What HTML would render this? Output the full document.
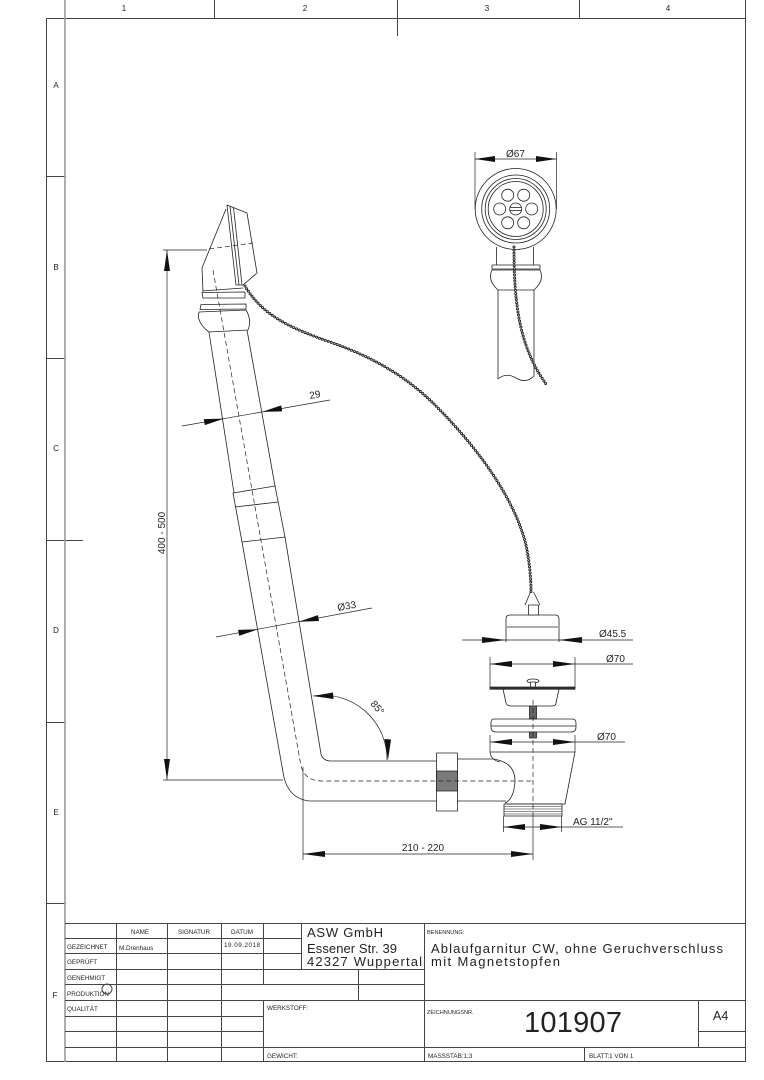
<!DOCTYPE html>
<html><head><meta charset="utf-8"><style>
html,body{margin:0;padding:0;background:#fff;}
svg{display:block;}
text{font-family:"Liberation Sans",sans-serif;fill:#222;}
</style></head><body>
<svg width="764" height="1080" viewBox="0 0 764 1080" xmlns="http://www.w3.org/2000/svg">
<rect x="0" y="0" width="764" height="1080" fill="#fff"/>
<!-- frame -->
<g stroke="#444" stroke-width="1" fill="none">
<line x1="46.5" y1="18.5" x2="746" y2="18.5"/>
<line x1="46.5" y1="18.5" x2="46.5" y2="1062"/>
<line x1="46.5" y1="1061.5" x2="746" y2="1061.5"/>
<line x1="745.5" y1="0" x2="745.5" y2="1062"/>
<line x1="214.5" y1="0" x2="214.5" y2="18"/>
<line x1="397.5" y1="0" x2="397.5" y2="36"/>
<line x1="579.5" y1="0" x2="579.5" y2="18"/>
<line x1="47" y1="176.5" x2="65" y2="176.5"/>
<line x1="47" y1="358.5" x2="65" y2="358.5"/>
<line x1="47" y1="540.5" x2="83" y2="540.5"/>
<line x1="47" y1="722.5" x2="65" y2="722.5"/>
<line x1="47" y1="903.5" x2="65" y2="903.5"/>
</g>
<line x1="65" y1="0" x2="65" y2="1062" stroke="#999" stroke-width="1.6"/>
<g font-size="8" text-anchor="middle">
<text x="124" y="11">1</text><text x="305" y="11">2</text><text x="487" y="11">3</text><text x="668" y="11">4</text>
<text x="56" y="88">A</text><text x="56" y="270">B</text><text x="56" y="451">C</text><text x="56" y="633">D</text><text x="56" y="815">E</text><text x="55" y="998">F</text>
</g>

<!-- title block -->
<g stroke="#444" stroke-width="1" fill="none">
<line x1="65" y1="923.5" x2="746" y2="923.5"/>
<line x1="65" y1="938.5" x2="301" y2="938.5"/>
<line x1="65" y1="953.5" x2="301" y2="953.5"/>
<line x1="65" y1="969.5" x2="424" y2="969.5"/>
<line x1="65" y1="984.5" x2="424" y2="984.5"/>
<line x1="65" y1="1000.5" x2="746" y2="1000.5"/>
<line x1="65" y1="1016.5" x2="263" y2="1016.5"/>
<line x1="65" y1="1031.5" x2="263" y2="1031.5"/>
<line x1="65" y1="1047.5" x2="746" y2="1047.5"/>
<line x1="116.5" y1="923" x2="116.5" y2="1062"/>
<line x1="167.5" y1="923" x2="167.5" y2="1062"/>
<line x1="221.5" y1="923" x2="221.5" y2="1062"/>
<line x1="263.5" y1="923" x2="263.5" y2="984"/>
<line x1="263.5" y1="1000" x2="263.5" y2="1062"/>
<line x1="301.5" y1="923" x2="301.5" y2="969"/>
<line x1="358.5" y1="969" x2="358.5" y2="1000"/>
<line x1="424.5" y1="923" x2="424.5" y2="1062"/>
<line x1="698.5" y1="1000" x2="698.5" y2="1047"/>
<line x1="698" y1="1031.5" x2="746" y2="1031.5"/>
<line x1="584.5" y1="1047" x2="584.5" y2="1062"/>
<circle cx="107" cy="989" r="5"/>
</g>
<g font-size="6.3">
<text x="140" y="934" text-anchor="middle">NAME</text>
<text x="194" y="934" text-anchor="middle">SIGNATUR</text>
<text x="242" y="934" text-anchor="middle">DATUM</text>
<text x="67" y="949">GEZEICHNET</text>
<text x="119" y="950">M.Drenhaus</text>
<text x="224" y="947" textLength="36">19.09.2018</text>
<text x="67" y="964">GEPRÜFT</text>
<text x="67" y="980">GENEHMIGT</text>
<text x="67" y="996">PRODUKTION</text>
<text x="67" y="1011">QUALITÄT</text>
<text x="267" y="1010">WERKSTOFF:</text>
<text x="267" y="1058">GEWICHT:</text>
<text x="428" y="1058">MASSSTAB:1:3</text>
<text x="589" y="1058">BLATT:1 VON 1</text>
</g>
<g font-size="5.6">
<text x="427" y="934">BENENNUNG:</text>
<text x="427" y="1014">ZEICHNUNGSNR.</text>
</g>
<g font-size="13">
<text x="307" y="937" textLength="76">ASW GmbH</text>
<text x="307" y="953" textLength="90">Essener Str. 39</text>
<text x="307" y="966" textLength="115">42327 Wuppertal</text>
<text x="431" y="953" textLength="292">Ablaufgarnitur CW, ohne Geruchverschluss</text>
<text x="431" y="966" textLength="129">mit Magnetstopfen</text>
</g>
<text x="524" y="1032" font-size="29" textLength="98">101907</text>
<text x="713" y="1020" font-size="12.5">A4</text>

<!-- main drawing -->
<g stroke="#222" stroke-width="0.8" fill="none" stroke-linejoin="round">
<!-- head cap -->
<polygon points="227,205 247,213 257,273 243,285 236,285"/>
<line x1="230" y1="206" x2="239" y2="285"/>
<line x1="233.5" y1="207.5" x2="242" y2="285"/>
<polyline points="226,209 202,268 203,291"/>
<line x1="202" y1="291" x2="243" y2="288"/>
<path d="M202,292.5 L245,292 L245,298 L203,298 Z"/>
<path d="M201,304.5 L246,304 L246,309 L200,309.5 Z"/>
<!-- collar -->
<path d="M199,312 L246,310 Q252,320 248,330 L209,332 Q196,322 199,312 Z"/>
<!-- upper tube -->
<line x1="209" y1="332" x2="234" y2="493"/>
<line x1="247" y1="330" x2="275" y2="486"/>
<!-- sleeve -->
<path d="M233,493 L275,486 L285,537 L242,542 Z"/>
<line x1="235" y1="507" x2="278" y2="502"/>
<!-- lower tube -->
<path d="M242,542 L283,772 Q287,799 310,801 L437,801"/>
<path d="M285,537 L321,754 Q323,761 331,761 L437,761"/>
<!-- nut -->
<rect x="436.5" y="753" width="21" height="58" fill="#fff"/>
<rect x="436.5" y="771" width="21" height="20" fill="#7a7a7a"/>
<!-- pipe after nut -->
<line x1="457" y1="759" x2="493" y2="759"/>
<line x1="457" y1="801" x2="506" y2="801"/>
<path d="M493,759 Q515,762 515,781 Q514,799 505,803"/>
<!-- drain body -->
<path d="M490,752 L575,752 L565,804 L505,804"/>
<path d="M490,752 Q491,760 500,762"/>
<rect x="504" y="804" width="58" height="12"/>
<g stroke-width="0.5"><line x1="504" y1="806.5" x2="562" y2="806.5"/><line x1="504" y1="809" x2="562" y2="809"/><line x1="504" y1="811.5" x2="562" y2="811.5"/><line x1="504" y1="814" x2="562" y2="814"/></g>
<!-- stopper -->
<path d="M506,642 L506,619 Q506,615 510,615 L555,615 Q559,615 559,619 L559,642"/>
<line x1="507" y1="627" x2="558" y2="627"/>
<rect x="528.5" y="605" width="10" height="10" fill="#fff"/>
<line x1="525" y1="605" x2="530.5" y2="592"/>
<line x1="540" y1="605" x2="533.5" y2="592"/>
<!-- plate and cup -->
<rect x="490" y="687" width="85" height="2.2" fill="#333"/>
<path d="M503,689 L506,703 Q507,706 511,706 L552,706 Q556,706 556,703 L559,689"/>
<ellipse cx="533" cy="681" rx="6" ry="2" fill="#fff"/>
<rect x="530.5" y="682" width="5" height="5" fill="#fff"/>
<rect x="529.5" y="706" width="7" height="13" fill="#666"/>
<path d="M494,719 L572,719 Q576,719 576,723 L576,727 Q576,732 571,732 L496,732 Q491,732 491,727 L491,723 Q491,719 494,719 Z"/>
<line x1="491" y1="726" x2="576" y2="726"/>
<rect x="529.5" y="732" width="7" height="6" fill="#666"/>
<!-- top-right detail -->
<circle cx="515.7" cy="209" r="40.5"/>
<circle cx="515.7" cy="209" r="34"/>
<circle cx="515.7" cy="209" r="30.5"/>
<circle cx="515.7" cy="209" r="27.5"/>
<circle cx="515.7" cy="209" r="6"/>
<line x1="510" y1="207.5" x2="521.5" y2="207.5"/>
<line x1="510" y1="210.5" x2="521.5" y2="210.5"/>
<circle cx="531.7" cy="209" r="6"/>
<circle cx="499.7" cy="209" r="6"/>
<circle cx="523.7" cy="195.2" r="6"/>
<circle cx="507.7" cy="195.2" r="6"/>
<circle cx="523.7" cy="222.8" r="6"/>
<circle cx="507.7" cy="222.8" r="6"/>
<line x1="496.5" y1="247" x2="496.5" y2="265"/>
<line x1="533.5" y1="247" x2="533.5" y2="265"/>
<rect x="492" y="265" width="48" height="4"/>
<path d="M492,270 L540,270 Q545,280 534,290 L498,290 Q487,280 492,270 Z"/>
<line x1="498" y1="290" x2="498" y2="379"/>
<line x1="534" y1="290" x2="534" y2="376"/>
<path d="M498,379 Q506,372 516,378 Q526,384 534,376"/>
</g>

<!-- hidden / center lines -->
<g stroke="#222" stroke-width="0.7" fill="none" stroke-dasharray="5,3">
<line x1="209" y1="249" x2="253" y2="243"/>
<path d="M213,270 L301,766 Q305,781 322,781 L533,781"/>
<line x1="533" y1="700" x2="533" y2="817"/>
</g>

<!-- chains -->
<g fill="none" stroke-linecap="round">
<path d="M245,286 C262,315 290,328 330,342 C370,356 405,375 435,405 C480,450 515,500 526,545 C530,565 531,580 531,592" stroke="#222" stroke-width="3" stroke-dasharray="0 3.1"/>
<path d="M245,286 C262,315 290,328 330,342 C370,356 405,375 435,405 C480,450 515,500 526,545 C530,565 531,580 531,592" stroke="#fff" stroke-width="1.1" stroke-dasharray="0 3.1"/>
<path d="M514,247 C514,300 518,345 546,384" stroke="#222" stroke-width="3" stroke-dasharray="0 3.1"/>
<path d="M514,247 C514,300 518,345 546,384" stroke="#fff" stroke-width="1.1" stroke-dasharray="0 3.1"/>
</g>

<!-- dimensions -->
<g stroke="#222" stroke-width="0.7" fill="none">
<line x1="167" y1="250" x2="167" y2="780"/>
<line x1="163" y1="250" x2="207" y2="250"/>
<line x1="163" y1="780" x2="283" y2="780"/>
<line x1="182" y1="426" x2="330" y2="400"/>
<line x1="216" y1="637" x2="372" y2="608"/>
<path d="M313,696 A64,64 0 0 1 387,760"/>
<line x1="303" y1="767" x2="303" y2="860"/>
<line x1="533" y1="817" x2="533" y2="860"/>
<line x1="303" y1="854" x2="533" y2="854"/>
<line x1="503.5" y1="816" x2="503.5" y2="832"/>
<line x1="561.5" y1="816" x2="561.5" y2="832"/>
<line x1="503" y1="827" x2="623" y2="827"/>
<line x1="490" y1="735" x2="490" y2="752"/>
<line x1="575" y1="735" x2="575" y2="752"/>
<line x1="490" y1="742" x2="625" y2="742"/>
<line x1="490" y1="657" x2="490" y2="688"/>
<line x1="575" y1="657" x2="575" y2="688"/>
<line x1="490" y1="664" x2="633" y2="664"/>
<line x1="462" y1="640" x2="633" y2="640"/>
<line x1="475" y1="152" x2="475" y2="209"/>
<line x1="556.5" y1="152" x2="556.5" y2="209"/>
<line x1="475" y1="159" x2="556.5" y2="159"/>
</g>
<g fill="#111" stroke="none">
<polygon points="167,250 164,271 170,271"/>
<polygon points="167,780 164,759 170,759"/>
<polygon points="224,418.6 204.8,425.1 203.8,419.1"/>
<polygon points="262,411.9 282.2,411.4 281.2,405.4"/>
<polygon points="258.3,629.2 239.2,635.8 238.1,629.9"/>
<polygon points="298.8,621.7 319,621 317.9,615.1"/>
<polygon points="313,696 333,692.5 333.5,699"/>
<polygon points="388,760 384.5,739 391,739.5"/>
<polygon points="303,854 325,851 325,857"/>
<polygon points="533,854 511,851 511,857"/>
<polygon points="503.5,827 525,824 525,830"/>
<polygon points="561.5,827 540,824 540,830"/>
<polygon points="490,742 512,739 512,745"/>
<polygon points="575,742 553,739 553,745"/>
<polygon points="490,664 512,661 512,667"/>
<polygon points="575,664 553,661 553,667"/>
<polygon points="506,640 482,637 482,643"/>
<polygon points="559,640 582,637 582,643"/>
<polygon points="475,159 495,156 495,162"/>
<polygon points="556.5,159 536,156 536,162"/>
</g>
<g font-size="10">
<text x="0" y="0" transform="translate(165,533) rotate(-90)" text-anchor="middle">400 - 500</text>
<text x="0" y="0" transform="translate(310,399) rotate(-10)">29</text>
<text x="0" y="0" transform="translate(338,611) rotate(-10)">Ø33</text>
<text x="0" y="0" transform="translate(370,704) rotate(50)">85°</text>
<text x="423" y="851" text-anchor="middle">210 - 220</text>
<text x="573" y="825">AG 11/2"</text>
<text x="597" y="740">Ø70</text>
<text x="606" y="662">Ø70</text>
<text x="599" y="637">Ø45.5</text>
<text x="506" y="157">Ø67</text>
</g>
</svg>
</body></html>
